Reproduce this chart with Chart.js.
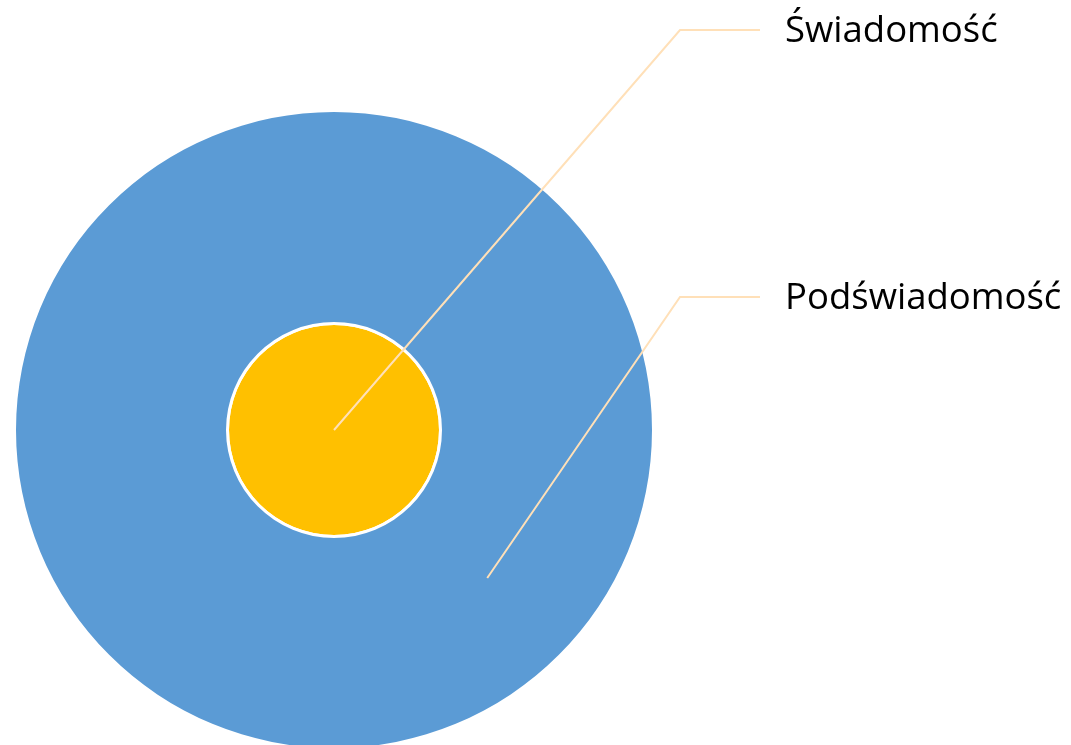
<!DOCTYPE html>
<html>
<head>
<meta charset="utf-8">
<script src="https://cdn.jsdelivr.net/npm/chart.js@4"></script>
<style>
  html, body { margin: 0; padding: 0; background: #ffffff; overflow: hidden; }
  #wrap { width: 1071px; height: 800px; }
</style>
</head>
<body>
<div id="wrap"><canvas id="c" width="1071" height="800"></canvas></div>
<script>
// ---- data ----
const categories = ["Podświadomość", "Świadomość"];
const outerValues = [1];   // Podświadomość (outer ring)
const gapValues = [1];     // thin white separator ring
const innerValues = [1];   // Świadomość (inner circle)
const colors = { outer: "#5B9BD5", gap: "#FFFFFF", inner: "#FFC000" };

// leader-line label plugin
const leaderLabels = {
  id: "leaderLabels",
  afterDatasetsDraw(chart, args, opts) {
    const ctx = chart.ctx;
    const outerArc = chart.getDatasetMeta(0).data[0];
    const innerArc = chart.getDatasetMeta(2).data[0];
    const cx = innerArc.x, cy = innerArc.y;
    // anchor for outer ring: middle of ring at ~44deg clockwise from east
    const midR = (outerArc.innerRadius + outerArc.outerRadius) / 2;
    const ang = 44 * Math.PI / 180;
    const anchors = [
      { x: cx + midR * Math.cos(ang), y: cy + midR * Math.sin(ang), elbowY: 297, text: categories[0] },
      { x: cx, y: cy, elbowY: 30, text: categories[1] }
    ];
    ctx.save();
    ctx.strokeStyle = "#FFE0B8";
    ctx.lineWidth = 2;
    ctx.fillStyle = "#000000";
    ctx.font = "36.5px 'Open Sans'";
    ctx.textBaseline = "middle";
    ctx.textAlign = "left";
    anchors.forEach(a => {
      ctx.beginPath();
      ctx.moveTo(a.x, a.y);
      ctx.lineTo(opts.elbowX, a.elbowY);
      ctx.lineTo(opts.lineEndX, a.elbowY);
      ctx.stroke();
      ctx.fillText(a.text, opts.textX, a.elbowY + 2);
    });
    ctx.restore();
  }
};

new Chart(document.getElementById("c"), {
  type: "pie",
  data: {
    labels: [categories[0]],
    datasets: [
      { data: outerValues, backgroundColor: colors.outer, borderWidth: 0, hoverBorderWidth: 0, weight: 210 },
      { data: gapValues, backgroundColor: colors.gap, borderWidth: 0, hoverBorderWidth: 0, weight: 3 },
      { data: innerValues, backgroundColor: colors.inner, borderWidth: 0, hoverBorderWidth: 0, weight: 105 }
    ]
  },
  options: {
    responsive: false,
    animation: false,
    events: [],
    layout: { padding: { left: 16, top: 112, right: 419, bottom: 52 } },
    plugins: {
      legend: { display: false },
      tooltip: { enabled: false },
      leaderLabels: { elbowX: 680, lineEndX: 760, textX: 785 }
    }
  },
  plugins: [leaderLabels]
});
</script>
</body>
</html>
